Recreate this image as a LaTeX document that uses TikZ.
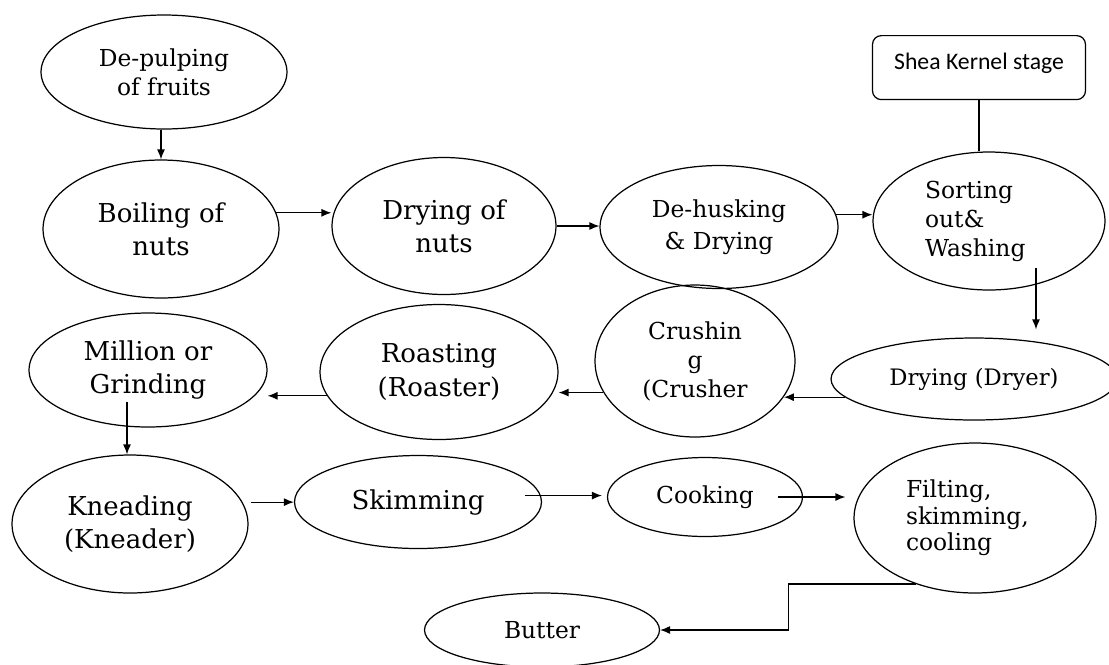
\documentclass[tikz,border=0pt]{standalone}
\usepackage{fontspec}
\setmainfont{DejaVu Serif}
\newfontfamily\kernelfont{Carlito}
\usepackage{tikz}
\usetikzlibrary{shapes.geometric, arrows.meta, calc}

\begin{document}
\begin{tikzpicture}[
        x=0.02cm, y=-0.02cm,
        stage/.style={draw, ellipse, inner sep=0pt, align=center, line width=0.7pt, font=\fontsize{13.3}{16.5}\selectfont},
        bigstage/.style={stage, font=\fontsize{14.8}{19}\selectfont},
        kernel/.style={draw, rectangle, rounded corners=5pt, minimum width=4.26cm, inner xsep=0pt, inner ysep=0pt, text height=0.68cm, text depth=0.6cm, line width=0.7pt, font=\kernelfont\fontsize{13.5}{15}\selectfont},
        arrow/.style={line width=0.7pt, -{Latex[length=2mm, width=1.6mm]}},
        link/.style={line width=0.7pt}
    ]
        \useasboundingbox (0,0) rectangle (1109,664);
        \clip (0,0) rectangle (1109,664);

        % top row
        \node[stage, minimum width=4.92cm, minimum height=2.28cm] (pulp) at (164,72) {De-pulping\\of fruits};
        \node[bigstage, minimum width=4.72cm, minimum height=2.76cm] (boil) at (161,229) {Boiling of\\nuts};
        \node[bigstage, minimum width=4.48cm, minimum height=2.74cm] (dnuts) at (444,226) {Drying of\\nuts};
        \node[stage, font=\fontsize{13.3}{18}\selectfont, minimum width=4.76cm, minimum height=2.46cm] (husk) at (719,227) {De-husking\\\& Drying};
        \node[stage, align=left, text width=2.56cm, minimum width=4.64cm, minimum height=2.76cm] (sort) at (989,221) {Sorting\\out\&\\Washing};
        \node[kernel, anchor=north] (shea) at (979,35) {Shea Kernel stage};

        % middle row
        \node[stage, font=\fontsize{12.9}{15}\selectfont, minimum width=5.72cm, minimum height=1.64cm] (dryer) at (974,379) {Drying (Dryer)};
        \node[stage, minimum width=4.0cm, minimum height=3.04cm] (crush) at (695,361) {Crushin\\g\\(Crusher};
        \node[bigstage, minimum width=4.76cm, minimum height=2.7cm] (roast) at (439,372) {Roasting\\(Roaster)};
        \node[bigstage, minimum width=4.76cm, minimum height=2.28cm] (mill) at (148,370) {Million or\\Grinding};

        % bottom rows
        \node[bigstage, minimum width=4.72cm, minimum height=2.76cm] (knead) at (130,524) {Kneading\\(Kneader)};
        \node[bigstage, minimum width=4.94cm, minimum height=1.86cm] (skim) at (418,502) {Skimming};
        \node[stage, minimum width=3.9cm, minimum height=1.58cm] (cook) at (705,497) {Cooking};
        \node[stage, align=left, text width=2.76cm, font=\fontsize{13.3}{15}\selectfont, minimum width=4.84cm, minimum height=3.0cm] (filt) at (975,518) {Filting,\\skimming,\\cooling};
        \node[stage, minimum width=4.7cm, minimum height=1.48cm] (butter) at (542,630) {Butter};

        \coordinate (sortout) at ([xshift=0.94cm, yshift=-0.94cm]sort.center);
        \coordinate (millout) at ([xshift=-0.42cm, yshift=-0.64cm]mill.center);

        \draw[arrow] (boil.north |- pulp.south) -- (boil.north);
        \draw[arrow] (boil.8) -- (boil.8 -| dnuts.west);
        \draw[arrow] (dnuts.east) -- (dnuts.east -| husk.west);
        \draw[arrow] (husk.6) -- (husk.6 -| sort.west);
        \draw[link] (shea.south) -- (shea.south |- sort.north);
        \draw[arrow, shorten >=0.16cm] (sortout) -- (sortout |- dryer.north);

        \draw[arrow] (dryer.188) -- (dryer.188 -| crush.-22);
        \draw[arrow] (crush.199) -- (crush.199 -| roast.east);
        \draw[arrow] (roast.192) -- (roast.192 -| mill.east);
        \draw[arrow] (millout) -- (millout |- knead.north);

        \draw[arrow, shorten <=0.16cm] (knead.11) -- (knead.11 -| skim.west);
        \draw[arrow, shorten <=-0.32cm, shorten >=0.1cm] (skim.3) -- (skim.3 -| cook.west);
        \draw[arrow, shorten <=-0.5cm, shorten >=0.16cm] (cook.east) -- (cook.east -| filt.west);
        \draw[arrow] (filt.228) -- ++(-127,0) |- (butter.east);

\end{tikzpicture}
\end{document}
